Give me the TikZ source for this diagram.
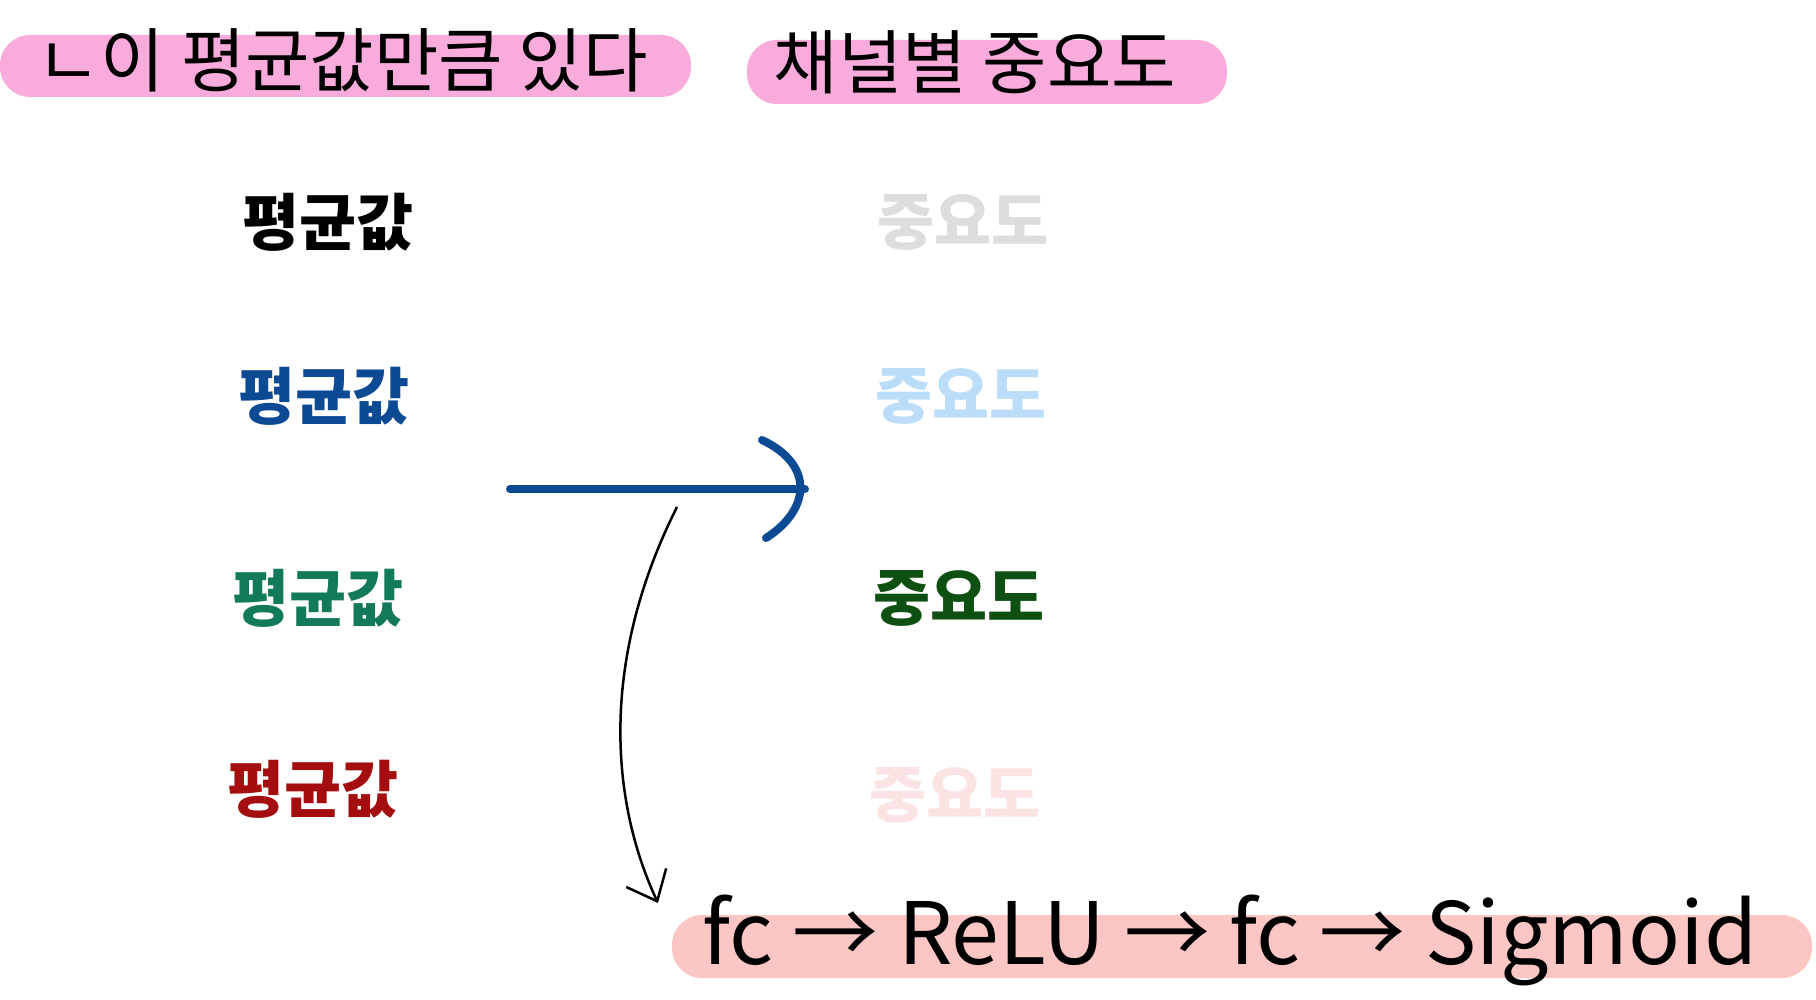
\documentclass[tikz,border=0pt]{standalone}
\usepackage{fontspec}
\setmainfont{Noto Sans CJK KR}
\usetikzlibrary{arrows.meta}
\definecolor{hlA}{HTML}{F9ACDC}
\definecolor{hlB}{HTML}{FCC6C4}
\definecolor{cblue}{HTML}{0D4A94}
\definecolor{cgreen}{HTML}{127A5A}
\definecolor{cred}{HTML}{A50E0E}
\definecolor{lgray}{HTML}{DDDDDD}
\definecolor{lblue}{HTML}{BBDDFA}
\definecolor{dgreen}{HTML}{0E5011}
\definecolor{lpink}{HTML}{FBE3E3}
\begin{document}
\begin{tikzpicture}[x=1pt,y=-1pt,
  hl/.style={rounded corners=30pt},
  lbl/.style={font=\fontsize{62}{68}\selectfont\bfseries,inner sep=0},
  head/.style={font=\fontsize{70}{76}\selectfont,inner sep=0}]
\useasboundingbox (0,0) rectangle (1816,1000);
\fill[hlA,hl] (0,35) rectangle (691,97);
\fill[hlA,hl] (747,40) rectangle (1227,104);
\fill[hlB,hl] (672,915) rectangle (1812,978);
\node[head] (t1) at (342,60) {ㄴ이 평균값만큼 있다};
\node[head] (t2) at (975,62) {채널별 중요도};
\node[lbl] (m1) at (328,222) {평균값};
\node[lbl,text=cblue] (m2) at (324,396) {평균값};
\node[lbl,text=cgreen] (m3) at (318,598) {평균값};
\node[lbl,text=cred] (m4) at (313,789) {평균값};
\node[lbl,text=lgray] (i1) at (963,222) {중요도};
\node[lbl,text=lblue] (i2) at (961,396) {중요도};
\node[lbl,text=dgreen] (i3) at (959,598) {중요도};
\node[lbl,text=lpink] (i4) at (955,795) {중요도};
\node[inner sep=0,font=\fontsize{86}{92}\selectfont] (f) at (1230,940) {fc → ReLU → fc → Sigmoid};
\coordinate (a0) at (510,489);
\coordinate (a1) at (805,489);
\draw[cblue,line width=8pt,line cap=round] (a0) -- (a1);
\draw[cblue,line width=8pt,line cap=round] (762,440) .. controls (815,465) and (810,510) .. (766,538);
\coordinate (b0) at (677,507);
\coordinate (b1) at (658,903);
\draw[line width=2.5pt,-{Straight Barb[length=26pt,width=44pt]}] (b0) .. controls (600,660) and (610,800) .. (b1);
\end{tikzpicture}
\end{document}
